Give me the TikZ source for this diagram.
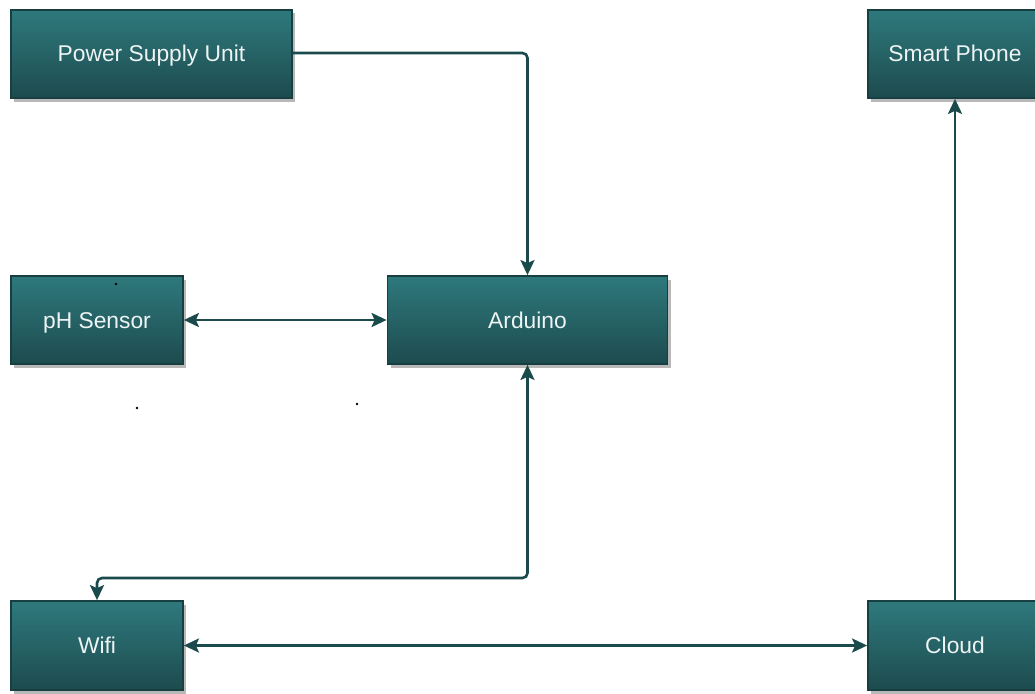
\documentclass[tikz,border=0pt]{standalone}
\usepackage{fontspec}
\setmainfont{Liberation Sans}
\usetikzlibrary{arrows.meta,shadows,calc}
\definecolor{boxtop}{HTML}{2E797D}
\definecolor{boxbot}{HTML}{1D4B4E}
\definecolor{boxline}{HTML}{173E40}
\definecolor{linecol}{HTML}{1A4A4C}
\definecolor{txtcol}{HTML}{EEF4F4}
\tikzset{
  blockbox/.style={rectangle, draw=boxline, line width=1.8pt, top color=boxtop, bottom color=boxbot,
    text=txtcol, font=\fontsize{22.8}{27}\selectfont, inner sep=0pt, text height=16pt, text depth=0pt,
    drop shadow={shadow xshift=3pt, shadow yshift=-3.5pt, opacity=0.5, fill=black!55}},
  conn/.style={draw=linecol, line width=2.6pt, rounded corners=5pt,
    >={Stealth[length=15pt,width=14pt,inset=3pt]}},
  speck/.style={fill=black, circle, inner sep=0pt, minimum size=2.6pt}
}
\begin{document}
\begin{tikzpicture}[x=1pt,y=-1pt]
\clip (0,0) rectangle (1035,693);
\fill[white] (0,0) rectangle (1035,693);
\node[blockbox, minimum width=281pt, minimum height=88pt] (psu) at (151.5,54) {Power Supply Unit};
\node[blockbox, minimum width=174pt, minimum height=88pt] (phone) at (955,54) {Smart Phone};
\node[blockbox, minimum width=172pt, minimum height=88pt] (ph) at (97,320) {pH Sensor};
\node[blockbox, minimum width=280pt, minimum height=88pt] (ard) at (527.5,320) {Arduino};
\node[blockbox, minimum width=172pt, minimum height=89pt] (wifi) at (97,645.5) {Wifi};
\node[blockbox, minimum width=174pt, minimum height=89pt] (cloud) at (955,645.5) {Cloud};
\coordinate (bendA) at (527.5,578);
\coordinate (bendB) at (97,578);
\coordinate (bendC) at (527.5,53);
\draw[conn,->] (psu.east |- 0,53) -- (bendC) -- (ard.north);
\draw[conn,<->] (ph.east) -- (ard.west);
\draw[conn,<->] (ard.south) -- (bendA) -- (bendB) -- (wifi.north);
\draw[conn,<->] (wifi.east) -- (cloud.west);
\draw[conn,->] (cloud.north) -- (phone.south);
\node[speck] (s1) at (116,284) {};
\node[speck] (s2) at (137,408) {};
\node[speck] (s3) at (357,404) {};
\end{tikzpicture}
\end{document}
